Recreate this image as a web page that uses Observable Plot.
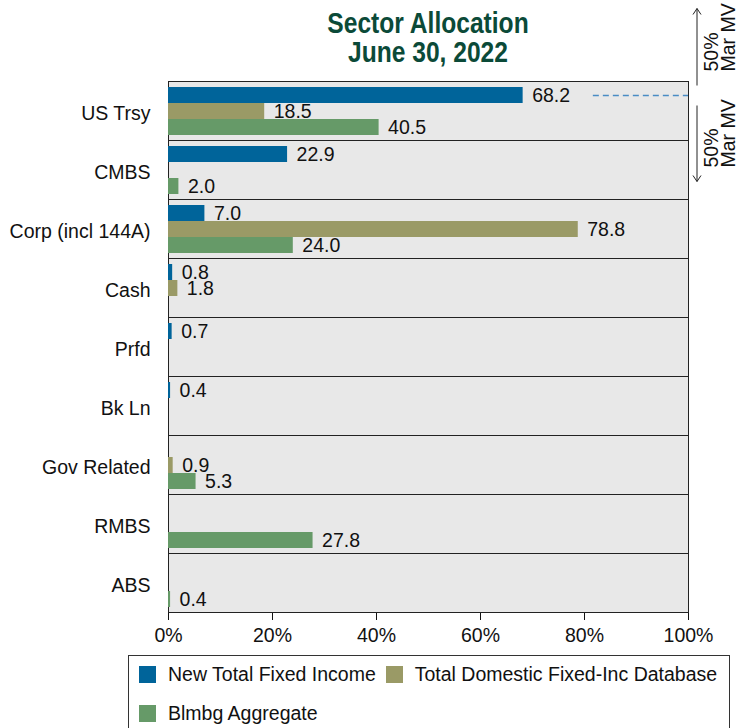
<!DOCTYPE html>
<html>
<head>
<meta charset="utf-8">
<script src="https://cdn.jsdelivr.net/npm/d3@7"></script>
<script src="https://cdn.jsdelivr.net/npm/@observablehq/plot@0.6"></script>
<style>
  body { margin: 0; background: #fff; font-family: "Liberation Sans", Arial, sans-serif; }
  #chart { position: relative; width: 736px; height: 728px; overflow: hidden; }
  #legend { position: absolute; left: 128px; top: 655px; width: 602px; height: 100px; border: 1px solid #333;
    box-sizing: border-box; padding: 10px 0 0 10px; display: flex; flex-wrap: wrap; align-content: flex-start;
    column-gap: 10px; row-gap: 22px; font-size: 19.5px; color: #111; }
  .item { display: flex; align-items: center; height: 17px; white-space: nowrap; }
  .sw { width: 17px; height: 17px; margin-right: 12px; flex: none; }
</style>
</head>
<body>
<div id="chart"></div>
<script>
const categories = ["US Trsy", "CMBS", "Corp (incl 144A)", "Cash", "Prfd", "Bk Ln", "Gov Related", "RMBS", "ABS"];
const seriesNames = ["New Total Fixed Income", "Total Domestic Fixed-Inc Database", "Blmbg Aggregate"];
const seriesColors = ["#00649a", "#9a9a66", "#669a68"];
const newTotalFixedIncome   = [68.2, 22.9, 7.0, 0.8, 0.7, 0.4, null, null, null];
const totalDomesticDatabase = [18.5, null, 78.8, 1.8, null, null, 0.9, null, null];
const blmbgAggregate        = [40.5, 2.0, 24.0, null, null, null, 5.3, 27.8, 0.4];
const xTicks = [0, 20, 40, 60, 80, 100];
const titleLines = ["Sector Allocation", "June 30, 2022"];
const annotationLines = ["50%", "Mar MV"];

const seriesValues = [newTotalFixedIncome, totalDomesticDatabase, blmbgAggregate];
const data = [];
categories.forEach((c, i) => {
  let first = true;
  seriesValues.forEach((arr, j) => {
    if (arr[i] != null) { data.push({category: c, series: seriesNames[j], value: arr[i], first}); first = false; }
  });
});

const font = "'Liberation Sans', Arial, sans-serif";
const fs = 19.5;
const plot = Plot.plot({
  width: 736,
  height: 652,
  marginTop: 80,
  marginBottom: 40,
  marginLeft: 168,
  marginRight: 48,
  style: {fontFamily: font, fontSize: fs + "px", color: "#111", background: "transparent", overflow: "visible"},
  facet: {data, y: "category"},
  fy: {domain: categories, padding: 0, axis: null, label: null},
  y: {domain: seriesNames, axis: null, paddingInner: 0, paddingOuter: 0.24, align: 0.55},
  x: {domain: [0, 100], ticks: xTicks, tickFormat: d => d + "%", tickSize: 8, tickPadding: 8, label: null},
  color: {domain: seriesNames, range: seriesColors},
  marks: [
    Plot.frame({fill: "#e8e8e8", stroke: "#222", strokeWidth: 1}),
    Plot.barX(data, {y: "series", x: "value", fill: "series"}),
    Plot.text(data, {y: "series", x: "value", text: d => d.value.toFixed(1), dx: 9, textAnchor: "start", fill: "#111", fontSize: fs}),
    Plot.text(data, {filter: d => d.first, frameAnchor: "left", text: "category", textAnchor: "end", dx: -18, dy: 3, fill: "#111", fontSize: fs}),
    Plot.ruleY(data, {filter: d => d.category === categories[0] && d.series === seriesNames[0], y: "series", x1: () => 81.7, x2: () => 100, stroke: "#4a8cc4", strokeDasharray: "6,4", strokeWidth: 1.3})
  ]
});

document.getElementById("chart").append(plot);

// Legend
const legend = d3.select("#chart").append("div").attr("id", "legend");
seriesNames.forEach((s, i) => {
  const it = legend.append("div").attr("class", "item");
  it.append("div").attr("class", "sw").style("background", seriesColors[i]);
  it.append("span").text(s);
});

// Title and annotations
const svg = d3.select(plot);
const xs = plot.scale("x");
const left = xs.apply(0), right = xs.apply(100);
const cx = (left + right) / 2;
titleLines.forEach((t, i) => {
  svg.append("text").attr("transform", `translate(${cx},${33 + i * 29}) scale(0.82,1)`).attr("text-anchor", "middle")
    .attr("font-family", font).attr("font-weight", "bold").attr("font-size", 30)
    .attr("fill", "#0b4a38").text(t);
});

const sr = plot.getBoundingClientRect();
const ruleEl = plot.querySelector('g[aria-label="rule"] line');
const rr = ruleEl.getBoundingClientRect();
const yLine = rr.top - sr.top + rr.height / 2;
const xa = right + 9;
const g = svg.append("g").attr("stroke", "#222").attr("fill", "none").attr("stroke-width", 1);
// up arrow
g.append("line").attr("x1", xa).attr("x2", xa).attr("y1", yLine - 10).attr("y2", yLine - 87);
g.append("path").attr("d", `M${xa - 4},${yLine - 81} L${xa},${yLine - 87} L${xa + 4},${yLine - 81}`);
// down arrow
g.append("line").attr("x1", xa).attr("x2", xa).attr("y1", yLine + 10).attr("y2", yLine + 86);
g.append("path").attr("d", `M${xa - 4},${yLine + 80} L${xa},${yLine + 86} L${xa + 4},${yLine + 80}`);
[yLine - 24, yLine + 72].forEach(yy => {
  annotationLines.forEach((t, k) => {
    svg.append("text").attr("transform", `translate(${xa + 21 + k * 17},${yy}) rotate(-90)`)
      .attr("text-anchor", "start").attr("font-family", font).attr("font-size", fs).attr("fill", "#111").text(t);
  });
});
</script>
</body>
</html>
